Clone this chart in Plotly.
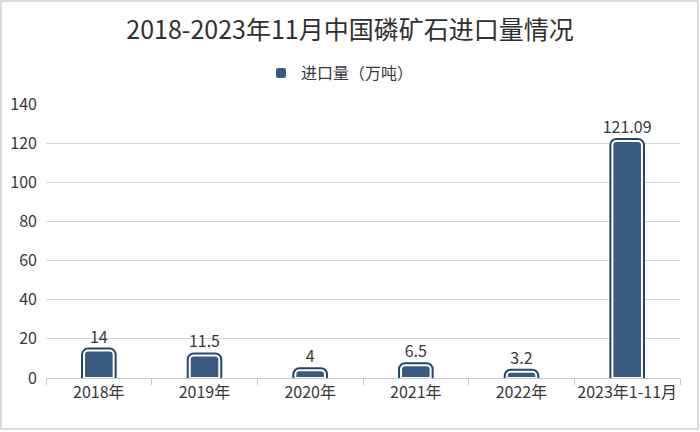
import plotly.graph_objects as go

categories = ["2018年", "2019年", "2020年", "2021年", "2022年", "2023年1-11月"]
values = [14, 11.5, 4, 6.5, 3.2, 121.09]
labels = ["14", "11.5", "4", "6.5", "3.2", "121.09"]
series_name = "进口量（万吨）"
title_text = "2018-2023年11月中国磷矿石进口量情况"
y_ticks = [0, 20, 40, 60, 80, 100, 120, 140]

W, H = 700, 432
ML, MR, MT, MB = 46, 20, 104, 54
PW, PH = W - ML - MR, H - MT - MB

FONT = "Noto Sans CJK SC, Microsoft YaHei, sans-serif"
FILL = "#3a5b80"
DARK = "#24456b"
TXT = "#383838"

fig = go.Figure()
# outer dark border layer
fig.add_trace(go.Bar(
    x=categories, y=values, width=0.28, showlegend=False, hoverinfo="skip",
    marker=dict(color=FILL, line=dict(color=DARK, width=6), cornerradius=4),
))
# inner white line layer + labels
fig.add_trace(go.Bar(
    x=categories, y=values, width=0.28, name=series_name,
    text=labels, textposition="outside", cliponaxis=False, constraintext="none",
    textfont=dict(size=16, color=TXT, family=FONT),
    marker=dict(color=FILL, line=dict(color="white", width=2), cornerradius=4),
))

def px_x(p):
    return (p - ML) / PW

def px_y(p):
    return (H - MB - p) / PH

fig.add_shape(type="rect", xref="paper", yref="paper",
              x0=px_x(1), x1=px_x(698), y0=px_y(429), y1=px_y(1),
              line=dict(color="#d0d0d0", width=1.5), layer="below")

fig.update_layout(
    width=W, height=H,
    margin=dict(l=ML, r=MR, t=MT, b=MB, autoexpand=False),
    paper_bgcolor="white", plot_bgcolor="white",
    barmode="overlay",
    font=dict(family=FONT, color=TXT, size=16),
    title=dict(text=title_text, x=0.5, xref="container", xanchor="center",
               y=1 - 30 / H, yanchor="middle",
               font=dict(size=25, color="#303030", family=FONT)),
    legend=dict(orientation="h", x=px_x(340), xanchor="center", xref="paper",
                y=1 + (104 - 73) / PH, yanchor="middle",
                font=dict(size=16, color=TXT, family=FONT),
                itemwidth=30),
    xaxis=dict(type="category", tickson="boundaries", ticks="outside",
               ticklen=6, tickcolor="#c8c8c8", showline=True,
               linecolor="#c8c8c8", linewidth=1, tickangle=0, automargin=False,
               tickfont=dict(size=16, color=TXT, family=FONT)),
    yaxis=dict(range=[0, 140], tickvals=y_ticks, showgrid=True,
               gridcolor="#d9d9d9", gridwidth=1, zeroline=False, automargin=False,
               ticks="", ticklabelstandoff=8,
               tickfont=dict(size=16, color=TXT, family=FONT)),
)

fig.write_html("out.html", config={"displayModeBar": False},
               post_script="document.body.style.margin='0';")
